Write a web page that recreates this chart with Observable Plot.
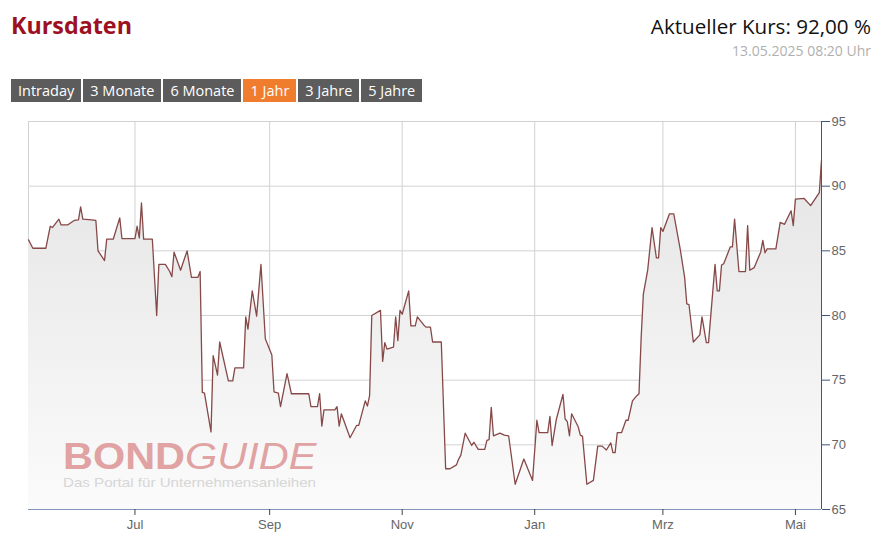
<!DOCTYPE html>
<html><head><meta charset="utf-8">
<script src="https://cdn.jsdelivr.net/npm/d3@7"></script>
<script src="https://cdn.jsdelivr.net/npm/@observablehq/plot@0.6"></script>
<style>
html,body{margin:0;padding:0;background:#fff;}
#page{position:relative;width:882px;height:551px;overflow:hidden;font-family:"Open Sans",sans-serif;}
#title{position:absolute;left:11px;top:14.4px;font-size:23.3px;line-height:23.3px;font-weight:700;color:#9c1021;white-space:nowrap;}
#kurs{position:absolute;right:11px;top:16.3px;font-size:20.6px;line-height:20.6px;color:#111;white-space:nowrap;}
#stamp{position:absolute;right:11px;top:44.3px;font-size:14px;line-height:14px;color:#b0b0b0;white-space:nowrap;}
#buttons{position:absolute;left:11px;top:79px;display:flex;gap:2px;}
.btn{height:23px;line-height:23px;padding:0 7px;background:#5c5c5c;color:#fff;font-size:14.5px;white-space:nowrap;}
.btn.active{background:#f07d2e;}
#chart{position:absolute;left:0;top:110px;}
.wm{position:absolute;left:63px;transform:scaleX(1.12);transform-origin:0 0;font-family:"Liberation Sans",Arial,sans-serif;white-space:nowrap;pointer-events:none;}
#wm1{top:442.2px;font-size:37px;line-height:30px;color:#e0a2a2;}
#wm1 b{font-weight:700;}
#wm1 i{font-style:italic;font-weight:400;}
#wm2{top:477px;font-size:13.5px;line-height:11px;color:#d6d6d6;}
</style>
</head><body>
<div id="page">
  <div id="title">Kursdaten</div>
  <div id="kurs">Aktueller Kurs: 92,00 %</div>
  <div id="stamp">13.05.2025 08:20 Uhr</div>
  <div id="buttons"></div>
  <div id="chart"></div>
  <div class="wm" id="wm1"><b>BOND</b><i>GUIDE</i></div>
  <div class="wm" id="wm2">Das Portal für Unternehmensanleihen</div>
</div>
<script>
const buttonLabels = ["Intraday", "3 Monate", "6 Monate", "1 Jahr", "3 Jahre", "5 Jahre"];
const activeButton = "1 Jahr";

const dates = [
  "2024-05-13","2024-05-15","2024-05-21","2024-05-23","2024-05-24","2024-05-27","2024-05-28","2024-05-31","2024-06-03","2024-06-05",
  "2024-06-06","2024-06-07","2024-06-11","2024-06-13","2024-06-14","2024-06-17","2024-06-18","2024-06-21","2024-06-24","2024-06-25",
  "2024-07-01","2024-07-02","2024-07-03","2024-07-04","2024-07-05","2024-07-09","2024-07-11","2024-07-12","2024-07-15","2024-07-17",
  "2024-07-18","2024-07-19","2024-07-22","2024-07-25","2024-07-27","2024-07-30","2024-07-31","2024-08-01","2024-08-02","2024-08-05",
  "2024-08-06","2024-08-08","2024-08-09","2024-08-13","2024-08-15","2024-08-16","2024-08-20","2024-08-21","2024-08-22","2024-08-24",
  "2024-08-26","2024-08-28","2024-08-30","2024-09-02","2024-09-03","2024-09-05","2024-09-06","2024-09-09","2024-09-11","2024-09-19",
  "2024-09-20","2024-09-23","2024-09-24","2024-09-25","2024-09-26","2024-10-01","2024-10-02","2024-10-03","2024-10-04","2024-10-08",
  "2024-10-11","2024-10-12","2024-10-15","2024-10-16","2024-10-17","2024-10-18","2024-10-22","2024-10-23","2024-10-24","2024-10-25",
  "2024-10-28","2024-10-29","2024-10-30","2024-10-31","2024-11-01","2024-11-04","2024-11-05","2024-11-07","2024-11-08","2024-11-11",
  "2024-11-12","2024-11-14","2024-11-15","2024-11-19","2024-11-21","2024-11-23","2024-11-26","2024-11-27","2024-11-28","2024-11-30",
  "2024-12-03","2024-12-04","2024-12-06","2024-12-09","2024-12-10","2024-12-11","2024-12-12","2024-12-13","2024-12-16","2024-12-18",
  "2024-12-20","2024-12-23","2024-12-27","2024-12-31","2025-01-02","2025-01-03","2025-01-07","2025-01-08","2025-01-09","2025-01-11",
  "2025-01-14","2025-01-15","2025-01-16","2025-01-17","2025-01-18","2025-01-21","2025-01-22","2025-01-23","2025-01-25","2025-01-28",
  "2025-01-30","2025-02-01","2025-02-03","2025-02-05","2025-02-06","2025-02-07","2025-02-08","2025-02-10","2025-02-12","2025-02-13",
  "2025-02-15","2025-02-17","2025-02-18","2025-02-19","2025-02-20","2025-02-22","2025-02-24","2025-02-26","2025-02-27","2025-02-28",
  "2025-03-01","2025-03-04","2025-03-06","2025-03-09","2025-03-11","2025-03-12","2025-03-13","2025-03-15","2025-03-18","2025-03-19",
  "2025-03-21","2025-03-22","2025-03-25","2025-03-26","2025-03-27","2025-03-28","2025-03-29","2025-04-01","2025-04-02","2025-04-03",
  "2025-04-05","2025-04-08","2025-04-09","2025-04-10","2025-04-12","2025-04-15","2025-04-16","2025-04-17","2025-04-18","2025-04-22",
  "2025-04-24","2025-04-26","2025-04-29","2025-04-30","2025-05-01","2025-05-05","2025-05-08","2025-05-12","2025-05-13"
];
const kurs = [
  85.85,85.2,85.2,86.9,86.8,87.45,87.0,87.0,87.35,87.4,
  88.4,87.45,87.4,87.35,85.0,84.25,85.9,85.9,87.55,85.95,
  85.95,86.9,86.0,88.7,85.9,85.9,80.0,83.95,83.95,83.4,
  83.0,84.9,83.5,85.0,82.95,82.95,83.4,74.05,74.0,71.0,
  76.9,75.4,77.95,74.95,74.95,75.95,75.95,79.9,78.95,81.9,
  79.95,83.95,78.2,76.95,74.1,74.0,72.95,75.5,73.95,73.95,
  72.95,72.95,73.95,71.45,72.7,72.7,72.95,71.45,72.4,70.55,
  71.5,71.5,73.4,73.0,73.8,80.0,80.4,76.45,77.9,77.4,
  77.55,79.9,78.05,80.4,80.1,81.9,79.2,79.2,79.9,79.25,
  79.1,79.1,77.95,77.95,68.15,68.15,68.45,68.9,69.2,70.9,
  69.95,70.2,69.65,69.65,70.35,70.4,72.9,70.7,70.9,70.75,
  70.7,66.95,68.9,67.25,71.9,70.95,70.95,72.2,69.95,72.0,
  73.9,72.0,71.8,70.7,72.4,71.4,70.75,70.65,66.95,67.25,
  69.9,69.9,69.6,70.15,69.4,69.4,70.95,70.95,71.9,71.9,
  73.4,73.8,73.95,78.3,81.65,83.5,86.8,84.45,84.45,86.8,
  86.5,87.85,87.85,85.1,82.95,80.9,80.85,77.95,78.5,79.9,
  77.9,77.9,83.95,81.9,81.9,83.9,84.0,85.3,85.3,87.45,
  83.4,83.4,86.95,83.5,83.7,84.9,85.8,84.85,85.15,85.15,
  87.2,87.05,88.1,86.95,89.0,89.05,88.5,89.5,92.0
];

const yTicks = [65, 70, 75, 80, 85, 90, 95];
const xTickDates = ["2024-07-01","2024-09-01","2024-11-01","2025-01-01","2025-03-01","2025-05-01"];
const xTickLabels = ["Jul","Sep","Nov","Jan","Mrz","Mai"];

// buttons
const bc = document.getElementById("buttons");
buttonLabels.forEach(l => {
  const d = document.createElement("div");
  d.className = "btn" + (l === activeButton ? " active" : "");
  d.textContent = l;
  bc.appendChild(d);
});

const data = dates.map((d, i) => ({date: new Date(d), value: kurs[i]}));
const xt = xTickDates.map(d => new Date(d));
const labelMap = new Map(xt.map((d, i) => [+d, xTickLabels[i]]));
const x0 = data[0].date, x1 = data[data.length - 1].date;
const yMin = yTicks[0], yMax = yTicks[yTicks.length - 1];

const chart = Plot.plot({
  width: 882, height: 441,
  marginLeft: 28, marginRight: 61, marginTop: 11, marginBottom: 42,
  style: {fontFamily: "'Liberation Sans', Arial, sans-serif", fontSize: "13px", background: "transparent", overflow: "visible"},
  x: {type: "utc", domain: [x0, x1]},
  y: {domain: [yMin, yMax]},
  marks: [
    Plot.gridY(yTicks, {stroke: "#d2d2d2", strokeOpacity: 1}),
    Plot.gridX(xt, {stroke: "#d2d2d2", strokeOpacity: 1}),
    Plot.ruleX([x0], {stroke: "#d2d2d2"}),
    Plot.areaY(data, {x: "date", y1: yMin, y2: "value", fill: "url(#areaGrad)"}),
    Plot.line(data, {x: "date", y: "value", stroke: "#874848", strokeWidth: 1.3}),
    Plot.ruleY([yMin], {stroke: "#8196b8"}),
    Plot.ruleX([x1], {stroke: "#40577d"}),
    Plot.axisY(yTicks, {anchor: "right", tickSize: 8, tickPadding: 2, stroke: "#40577d", fill: "#666", label: null}),
    Plot.axisX(xt, {anchor: "bottom", tickSize: 6, tickPadding: 4, stroke: "#444", fill: "#666", label: null, tickFormat: d => labelMap.get(+d)})
  ]
});

const defs = d3.select(chart).insert("defs", ":first-child");
const grad = defs.append("linearGradient").attr("id", "areaGrad").attr("x1", 0).attr("y1", 0).attr("x2", 0).attr("y2", 1);
grad.append("stop").attr("offset", "0%").attr("stop-color", "#e5e5e5");
grad.append("stop").attr("offset", "100%").attr("stop-color", "#fbfbfb");

document.getElementById("chart").appendChild(chart);
</script>
</body></html>
